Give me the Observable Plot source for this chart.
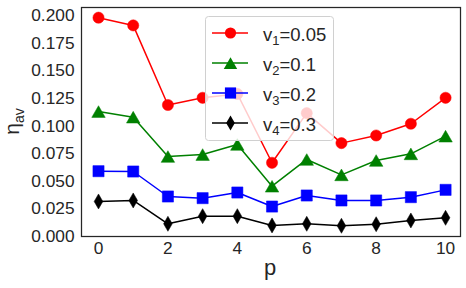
<!DOCTYPE html>
<html><head><meta charset="utf-8">
<script src="https://cdn.jsdelivr.net/npm/d3@7"></script>
<script src="https://cdn.jsdelivr.net/npm/@observablehq/plot@0.6"></script>
<style>
body{margin:0;background:#fff;}
#wrap{position:relative;width:466px;height:288px;font-family:"Liberation Sans",Arial,sans-serif;}
#legend{position:absolute;left:205px;top:16px;}
</style></head><body><div id="wrap"></div>
<script>
const p = [0,1,2,3,4,5,6,7,8,9,10];
const v1 = [0.198,0.191,0.119,0.1255,0.129,0.0667,0.1116,0.0845,0.0914,0.102,0.1255];
const v2 = [0.1131,0.108,0.0724,0.0742,0.0833,0.0455,0.0697,0.0558,0.0688,0.0748,0.0908];
const v3 = [0.0591,0.0588,0.0362,0.0347,0.0398,0.0271,0.0371,0.0326,0.0326,0.0356,0.0422];
const v4 = [0.0317,0.0326,0.0115,0.0184,0.0184,0.0100,0.0115,0.0097,0.0111,0.0145,0.0169];
const seriesSub = ["1","2","3","4"];
const seriesVal = ["0.05","0.1","0.2","0.3"];
const colors = ["#ff0000","#008000","#0000ff","#000000"];
const symbols = ["circle","triangle","square","diamond"];
const yTicks = [0,0.025,0.05,0.075,0.1,0.125,0.15,0.175,0.2];
const xTicks = [0,2,4,6,8,10];
const xLabel = "p";

const radii = [5.6,5,6.3,4.55];
const dys = [0,2,0,0];
const series = [v1,v2,v3,v4];
const marks = [];
series.forEach((vals,k)=>{
  const rows = p.map((x,i)=>({p:x,v:vals[i]}));
  marks.push(Plot.line(rows,{x:"p",y:"v",stroke:colors[k],strokeWidth:1.5}));
  marks.push(Plot.dot(rows,{x:"p",y:"v",fill:colors[k],stroke:colors[k],strokeWidth:0.5,symbol:symbols[k],r:radii[k],dy:dys[k]}));
});
marks.push(Plot.frame({stroke:"#262626",strokeWidth:1.25}));

const chart = Plot.plot({
  width:466,height:288,marginLeft:81,marginRight:6,marginTop:7,marginBottom:52,
  x:{domain:[-0.49,10.43],ticks:xTicks,tickSize:0,tickPadding:5,label:null},
  y:{domain:[0,0.2072],ticks:yTicks,tickFormat:d3.format(".3f"),tickSize:0,tickPadding:7,label:null},
  style:{fontSize:"17.3px",fontFamily:"'Liberation Sans',Arial,sans-serif",color:"#262626",background:"#fff"},
  marks
});
document.getElementById("wrap").appendChild(chart);
const svg = d3.select(chart);
svg.append("text").attr("x",270).attr("y",274.5).attr("text-anchor","middle")
  .attr("font-size",22).attr("fill","#262626").text(xLabel);
const yl = svg.append("text").attr("transform","translate(19,121.5) rotate(-90)")
  .attr("text-anchor","middle").attr("font-size",21).attr("fill","#262626");
yl.append("tspan").text("η");
yl.append("tspan").attr("font-size",14).attr("dy",5).text("av");

// legend overlay
const lw = 129, lh = 125;
const leg = d3.select("#wrap").append("svg").attr("id","legend").attr("width",lw).attr("height",lh);
leg.append("rect").attr("x",0.5).attr("y",0.5).attr("width",lw-1).attr("height",lh-1).attr("rx",3)
  .attr("fill","#fff").attr("fill-opacity",0.8).attr("stroke","#d0d0d0").attr("stroke-width",1);
const symMap = {circle:d3.symbolCircle,triangle:d3.symbolTriangle,square:d3.symbolSquare,diamond:d3.symbolDiamond};
seriesSub.forEach((s,k)=>{
  const cy = 17 + k*30;
  leg.append("line").attr("x1",7).attr("x2",43).attr("y1",cy).attr("y2",cy).attr("stroke",colors[k]).attr("stroke-width",1.5);
  leg.append("path").attr("transform",`translate(25.5,${cy+dys[k]})`)
    .attr("d",d3.symbol(symMap[symbols[k]],Math.PI*radii[k]*radii[k])()).attr("fill",colors[k]);
  const t = leg.append("text").attr("x",58).attr("y",cy+7.5).attr("font-size",18.5).attr("fill","#262626")
    .attr("font-family","'Liberation Sans',Arial,sans-serif");
  t.append("tspan").text("v");
  t.append("tspan").attr("font-size",13).attr("dy",4).text(s);
  t.append("tspan").attr("dy",-4).text("="+seriesVal[k]);
});
</script></body></html>
